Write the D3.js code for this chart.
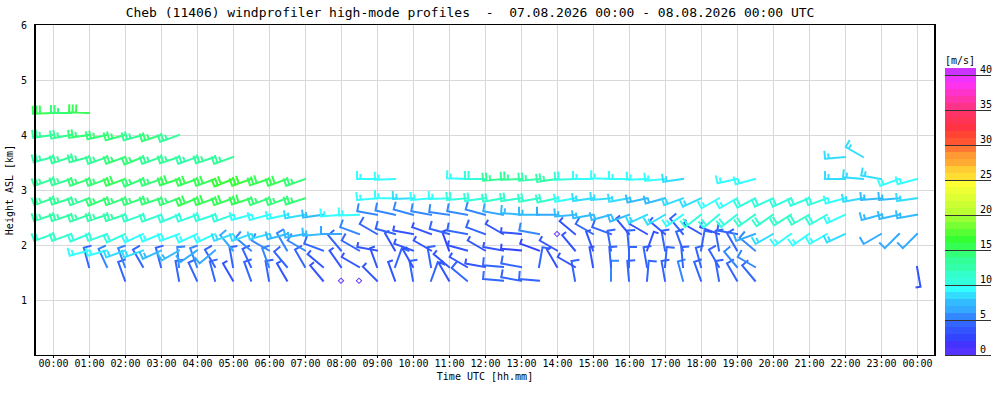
<!DOCTYPE html>
<html>
<head>
<meta charset="utf-8">
<script src="https://cdn.jsdelivr.net/npm/d3@7"></script>
<style>
  body { margin: 0; background: #fff; }
  text { font-family: "DejaVu Sans Mono", monospace; fill: #000; white-space: pre; }
</style>
</head>
<body>
<svg id="chart" width="1000" height="400"></svg>
<script>
const _ = null;

// profile times (every 30 min)
const profileTimes = [
  '00:00','00:30','01:00','01:30','02:00','02:30','03:00','03:30','04:00','04:30','05:00','05:30',
  '06:00','06:30','07:00','07:30','08:00','08:30','09:00','09:30','10:00','10:30','11:00','11:30',
  '12:00','12:30','13:00','13:30','14:00','14:30','15:00','15:30','16:00','16:30','17:00','17:30',
  '18:00','18:30','19:00','19:30','20:00','20:30','21:00','21:30','22:00','22:30','23:00','23:30',
  '24:00',
];

// range gates [km ASL], bottom to top
const gateHeights = [1.35, 1.6, 1.9, 2.2, 2.55, 2.85, 3.2, 3.6, 4.0, 4.4];

// wind speed [m/s] per gate (row) and profile (column); 0 = calm
const speeds = [
  [_,_,_,_,4,_,_,4,4,4,3,4,  4,3,_,3,0,0,3,3,4,4,3,4,  _,4,4,4,_,4,_,5,4,4,4,5,  4,4,4,4,_,_,_,_,_,_,_,_,  _],
  [_,_,4,5,5,4,4,5,5,4,4,4,  5,4,4,3,3,3,3,4,3,4,3,3,  3,4,4,4,3,3,3,4,4,4,4,4,  4,4,5,5,_,_,_,_,_,_,_,_,  3],
  [_,_,9,9,8,8,7,7,6,6,6,5,  5,5,5,4,4,4,3,3,3,3,2,3,  3,3,2,2,3,3,3,4,4,3,4,4,  4,4,4,5,_,_,_,_,_,_,_,_,  _],
  [11,11,10,10,10,9,9,9,9,9,8,8,  8,7,7,7,6,5,4,4,3,3,4,4,  4,3,3,5,0,3,4,4,3,3,3,4,  3,3,4,6,8,9,9,9,8,_,6,6,  6],
  [12,12,12,12,12,11,11,10,10,10,10,9,  9,9,8,7,9,9,5,5,5,5,5,5,  5,6,7,7,6,7,7,7,7,8,8,9,  10,10,10,11,11,11,11,10,9,_,7,7,  7],
  [13,13,13,14,14,14,14,14,15,15,15,15,  14,14,14,_,_,_,9,9,8,9,9,10,  10,11,11,11,11,9,8,8,8,7,7,8,  8,9,9,10,10,10,10,10,9,8,7,7,  8],
  [13,13,14,14,15,14,14,15,15,15,16,16,  15,15,14,_,_,_,9,9,_,_,_,9,  10,13,13,12,12,10,9,9,9,9,9,8,  _,_,9,9,_,_,_,_,8,8,8,9,  9],
  [12,13,13,13,14,14,13,13,12,13,13,_,  _,_,_,_,_,_,_,_,_,_,_,_,  _,_,_,_,_,_,_,_,_,_,_,_,  _,_,_,_,_,_,_,_,8,8,_,_,  _],
  [13,13,14,14,14,13,14,13,_,_,_,_,  _,_,_,_,_,_,_,_,_,_,_,_,  _,_,_,_,_,_,_,_,_,_,_,_,  _,_,_,_,_,_,_,_,_,_,_,_,  _],
  [15,14,15,_,_,_,_,_,_,_,_,_,  _,_,_,_,_,_,_,_,_,_,_,_,  _,_,_,_,_,_,_,_,_,_,_,_,  _,_,_,_,_,_,_,_,_,_,_,_,  _],
];

// wind direction [deg, from] per gate and profile
const directions = [
  [_,_,_,_,340,_,_,350,335,345,330,340,  350,330,_,320,0,0,315,340,350,20,330,310,  _,275,280,275,_,350,_,0,355,5,350,345,  340,350,330,320,_,_,_,_,_,_,_,_,  _],
  [_,_,345,335,340,330,345,355,340,330,350,335,  340,320,330,310,325,300,340,20,330,350,310,300,  280,275,280,10,330,300,350,355,0,350,5,355,  345,330,320,300,_,_,_,_,_,_,_,_,  170],
  [_,_,255,255,250,250,245,240,235,230,320,310,  300,330,300,290,320,300,280,330,290,300,340,285,  300,280,275,290,300,320,340,350,355,20,350,340,  10,350,330,310,_,_,_,_,_,_,_,_,  _],
  [250,250,248,250,245,245,248,250,245,245,250,250,  255,255,260,265,270,290,300,285,280,290,285,280,  290,300,275,280,0,310,300,290,320,300,310,320,  300,290,280,250,240,235,235,240,245,_,240,225,  225],
  [252,252,250,252,252,250,250,248,250,252,250,255,  255,258,260,262,265,268,280,282,285,280,278,280,  285,280,275,270,270,265,260,255,250,245,240,235,  232,230,232,235,235,238,240,240,245,_,255,258,  260],
  [250,252,250,248,250,250,252,250,248,250,250,252,  250,250,252,_,_,_,265,270,268,265,268,265,  262,260,262,260,258,260,262,265,260,258,255,250,  245,240,240,242,245,245,248,250,255,260,265,265,  262],
  [250,252,250,250,250,248,250,252,250,250,248,250,  252,250,250,_,_,_,270,268,_,_,_,272,  270,265,268,265,262,268,270,272,270,268,265,262,  _,_,258,255,_,_,_,_,270,275,280,250,  255],
  [255,252,255,250,250,248,250,252,250,252,250,_,  _,_,_,_,_,_,_,_,_,_,_,_,  _,_,_,_,_,_,_,_,_,_,_,_,  _,_,_,_,_,_,_,_,265,300,_,_,  _],
  [262,260,262,258,255,255,252,250,_,_,_,_,  _,_,_,_,_,_,_,_,_,_,_,_,  _,_,_,_,_,_,_,_,_,_,_,_,  _,_,_,_,_,_,_,_,_,_,_,_,  _],
  [268,270,272,_,_,_,_,_,_,_,_,_,  _,_,_,_,_,_,_,_,_,_,_,_,  _,_,_,_,_,_,_,_,_,_,_,_,  _,_,_,_,_,_,_,_,_,_,_,_,  _],
];

const hourLabels = [
  '00:00','01:00','02:00','03:00','04:00','05:00','06:00','07:00','08:00','09:00','10:00','11:00','12:00',
  '13:00','14:00','15:00','16:00','17:00','18:00','19:00','20:00','21:00','22:00','23:00','00:00',
];
const heightTicks = [1, 2, 3, 4, 5, 6];
const scaleTicks = [0, 5, 10, 15, 20, 25, 30, 35, 40];

// one colour per 1 m/s bin, 0..41
const scaleColors = [
  '#5533ff','#4433ff','#3344ff','#3355ff','#3366ff','#3388ff','#33aaff','#33bbff','#33ddff','#33ffff',
  '#33ffdd','#33ffcc','#33ffaa','#33ff99','#33ff77','#33ff55','#33ff33','#55ff33','#77ff33','#99ff33',
  '#bbff33','#ccff33','#ddff33','#eeff33','#ffff33','#ffdd33','#ffcc33','#ffaa33','#ff9933','#ff7733',
  '#ff5533','#ff4433','#ff3344','#ff3355','#ff3366','#ff3388','#ff33aa','#ff33cc','#ff33ee','#ee33ff',
  '#cc33ff',
];

const STAFF = 20;
const FULL = 7;
const HALF = 4;
const GAP = 3.5;

const svg = d3.select('#chart');
const x = d3.scaleLinear().domain([-0.5, 24.5]).range([35, 935]);
const y = d3.scaleLinear().domain([0, 6]).range([355, 25]);
const color = d3.scaleThreshold()
  .domain(scaleColors.slice(1).map((c, i) => i + 1))
  .range(scaleColors);

const toHours = (s) => +s.slice(0, 2) + +s.slice(3) / 60;

// title
svg.append('text')
  .attr('x', 470).attr('y', 17)
  .attr('text-anchor', 'middle')
  .style('font-size', '13px')
  .text('Cheb (11406) windprofiler high-mode profiles  -  07.08.2026 00:00 - 08.08.2026 00:00 UTC');

// grid
const grid = svg.append('g').attr('stroke', '#d8d8d8').attr('stroke-width', 1);
grid.selectAll('line.v')
  .data(hourLabels)
  .join('line')
  .attr('x1', (d, i) => Math.round(x(i)) + 0.5).attr('x2', (d, i) => Math.round(x(i)) + 0.5)
  .attr('y1', y(6)).attr('y2', y(0));
grid.selectAll('line.h')
  .data(heightTicks.slice(0, -1))
  .join('line')
  .attr('x1', x.range()[0]).attr('x2', x.range()[1])
  .attr('y1', (d) => Math.round(y(d)) + 0.5).attr('y2', (d) => Math.round(y(d)) + 0.5);

// axes
const xAxis = d3.axisBottom(x)
  .tickValues(d3.range(hourLabels.length))
  .tickFormat((d) => hourLabels[d])
  .tickSize(3)
  .tickPadding(2);
const gx = svg.append('g').attr('transform', `translate(0,${y(0)})`).call(xAxis);
gx.select('.domain').remove();
gx.selectAll('text').style('font-size', '10px').style('font-family', '"DejaVu Sans Mono", monospace');

const yAxis = d3.axisLeft(y).tickValues(heightTicks).tickFormat(d3.format('d')).tickSize(0).tickPadding(8);
const gy = svg.append('g').attr('transform', `translate(${x.range()[0]},0)`).call(yAxis);
gy.select('.domain').remove();
gy.selectAll('text').style('font-size', '10px').style('font-family', '"DejaVu Sans Mono", monospace');

svg.append('text')
  .attr('transform', `translate(13,${(y(6) + y(0)) / 2}) rotate(-90)`)
  .attr('text-anchor', 'middle')
  .style('font-size', '10px')
  .text('Height ASL [km]');

svg.append('text')
  .attr('x', (x.range()[0] + x.range()[1]) / 2).attr('y', 380)
  .attr('text-anchor', 'middle')
  .style('font-size', '10px')
  .text('Time UTC [hh.mm]');

// wind barbs
const barbPath = (px, py, spd, dir) => {
  const a = (dir * Math.PI) / 180;
  const sx = Math.sin(a);
  const sy = -Math.cos(a);
  const fx = -sy;
  const fy = sx;
  const tx = px + sx * STAFF;
  const ty = py + sy * STAFF;
  let p = `M${px},${py}L${tx},${ty}`;
  let kt = Math.round((spd * 1.943844) / 5) * 5;
  let pos = 0;
  while (kt >= 10) {
    const bx = tx - sx * pos;
    const by = ty - sy * pos;
    p += `M${bx},${by}l${fx * FULL},${fy * FULL}`;
    pos += GAP;
    kt -= 10;
  }
  if (kt >= 5) {
    const bx = tx - sx * pos;
    const by = ty - sy * pos;
    p += `M${bx},${by}l${fx * HALF},${fy * HALF}`;
  }
  return p;
};

const barbs = [];
gateHeights.forEach((h, g) => {
  profileTimes.forEach((t, i) => {
    const s = speeds[g][i];
    if (s === null) return;
    barbs.push({ t: toHours(t), h, s, d: directions[g][i] });
  });
});

const barbLayer = svg.append('g')
  .attr('fill', 'none')
  .attr('stroke-width', 2)
  .attr('stroke-linecap', 'square');

barbLayer.selectAll('path.barb')
  .data(barbs.filter((d) => d.s > 0))
  .join('path')
  .attr('class', 'barb')
  .attr('stroke', (d) => color(d.s))
  .attr('d', (d) => barbPath(x(d.t), y(d.h), d.s, d.d));

// calm: small diamond
barbLayer.selectAll('path.calm')
  .data(barbs.filter((d) => d.s === 0))
  .join('path')
  .attr('class', 'calm')
  .attr('stroke', '#6633ff')
  .attr('stroke-width', 1)
  .attr('transform', (d) => `translate(${x(d.t)},${y(d.h)}) rotate(45)`)
  .attr('d', d3.symbol(d3.symbolSquare, 14));

// frame
const frame = svg.append('g').attr('stroke', '#000');
frame.append('line').attr('x1', 35).attr('x2', 935).attr('y1', 24.5).attr('y2', 24.5).attr('stroke-width', 1);
frame.append('line').attr('x1', 35).attr('x2', 35).attr('y1', 24).attr('y2', 356).attr('stroke-width', 2);
frame.append('line').attr('x1', 935).attr('x2', 935).attr('y1', 24).attr('y2', 356).attr('stroke-width', 2);
frame.append('line').attr('x1', 34).attr('x2', 936).attr('y1', 355.5).attr('y2', 355.5).attr('stroke-width', 1);

// colour scale
const yBar = d3.scaleLinear().domain([0, 40]).range([355, 75]);
const bar = svg.append('g');
bar.selectAll('rect')
  .data(scaleColors)
  .join('rect')
  .attr('x', 945)
  .attr('width', 31)
  .attr('y', (c, k) => yBar(k + 1))
  .attr('height', (c, k) => yBar(k) - yBar(k + 1))
  .attr('fill', (c) => c)
  .attr('shape-rendering', 'crispEdges');
bar.selectAll('line')
  .data(scaleTicks)
  .join('line')
  .attr('x1', 945).attr('x2', 991)
  .attr('y1', (d) => Math.round(yBar(d)) + 0.5).attr('y2', (d) => Math.round(yBar(d)) + 0.5)
  .attr('stroke', '#333');
bar.selectAll('text')
  .data(scaleTicks)
  .join('text')
  .attr('x', 980)
  .attr('y', (d) => yBar(d) - 2)
  .style('font-size', '10px')
  .text((d) => d);
svg.append('text')
  .attr('x', 945).attr('y', 64)
  .style('font-size', '10px')
  .text('[m/s]');
</script>
</body>
</html>
